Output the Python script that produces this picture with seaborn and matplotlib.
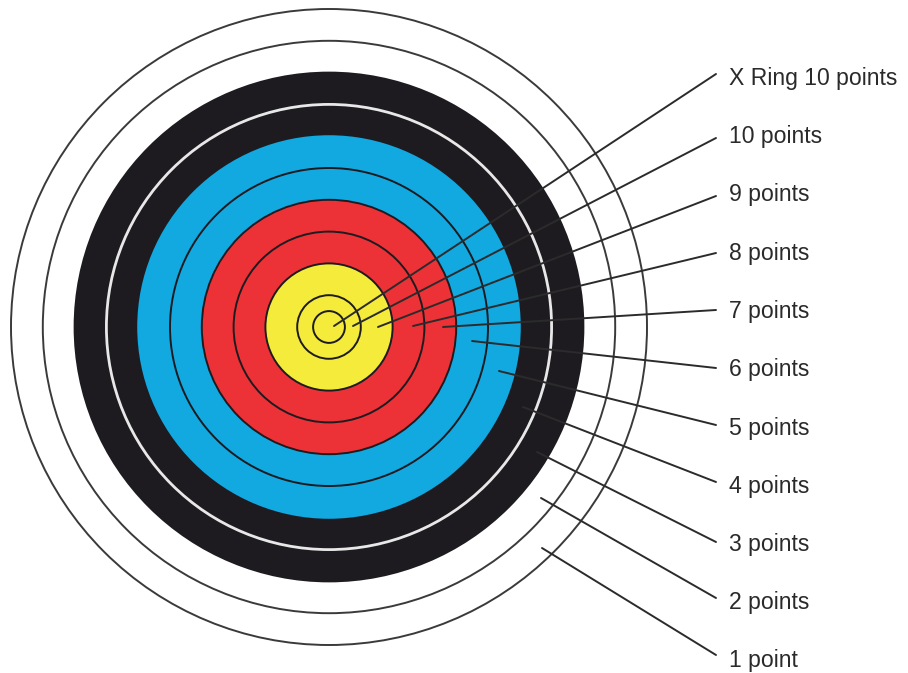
import pandas as pd
import matplotlib.pyplot as plt
import seaborn as sns
from matplotlib.patches import Circle

# Target rings, scored from the outside in
ring_scores = [1, 2, 3, 4, 5, 6, 7, 8, 9, 10]
ring_colors = ["white", "white", "#1d1b20", "#1d1b20", "#12a8e0", "#12a8e0",
               "#ed3237", "#ed3237", "#f4eb3a", "#f4eb3a"]
ring_edges = ["#3a3a3a", "#3a3a3a", "#1d1b20", "#e8e8e8", "#12a8e0", "#1d1b20",
              "#1d1b20", "#1d1b20", "#1d1b20", "#1d1b20"]

# Callout labels and where each leader line touches the target
labels = ["X Ring 10 points", "10 points", "9 points", "8 points", "7 points",
          "6 points", "5 points", "4 points", "3 points", "2 points", "1 point"]
anchor_x = [334, 353, 378, 413, 443, 472, 499, 523, 537, 541, 542]
anchor_y = [326, 326, 327, 326, 327, 341, 371, 407, 452, 498, 548]
end_y = [74, 138, 196, 253, 310, 368, 425, 482, 542, 598, 655]

cx, cy = 329, 327
ring_w = 31.8
end_x = 716
text_x = 729

sns.set_style("white")
plt.rcParams['font.family'] = ['Liberation Sans', 'DejaVu Sans']

fig = plt.figure(figsize=(9.08, 6.73), dpi=100)
ax = fig.add_axes([0, 0, 1, 1])

# rings, largest first
for score, fc, ec in zip(ring_scores, ring_colors, ring_edges):
    r = (11 - score) * ring_w
    lw = 2.0 if ec == "#e8e8e8" else 1.4
    ax.add_patch(Circle((cx, cy), r, facecolor=fc, edgecolor=ec, lw=lw, zorder=1))
# X ring
ax.add_patch(Circle((cx, cy), ring_w / 2, facecolor="#f4eb3a", edgecolor="#1d1b20",
                    lw=1.4, zorder=1))

# leader lines
rows = []
for lab, ax_, ay, ey in zip(labels, anchor_x, anchor_y, end_y):
    rows.append({"label": lab, "x": ax_, "y": ay})
    rows.append({"label": lab, "x": end_x, "y": ey})
lines = pd.DataFrame(rows)
sns.lineplot(data=lines, x="x", y="y", units="label", estimator=None, sort=False,
             color="#2b2b2b", linewidth=1.4, legend=False, ax=ax, zorder=3)
ax.set_xlim(0, 908)
ax.set_ylim(673, 0)
ax.axis('off')

for i, lab in enumerate(labels):
    ax.text(text_x, 85 + 58.25 * i, lab, fontsize=16.6, color="#2a2a2a",
            ha="left", va="baseline")

plt.savefig("out.png", dpi=100)
